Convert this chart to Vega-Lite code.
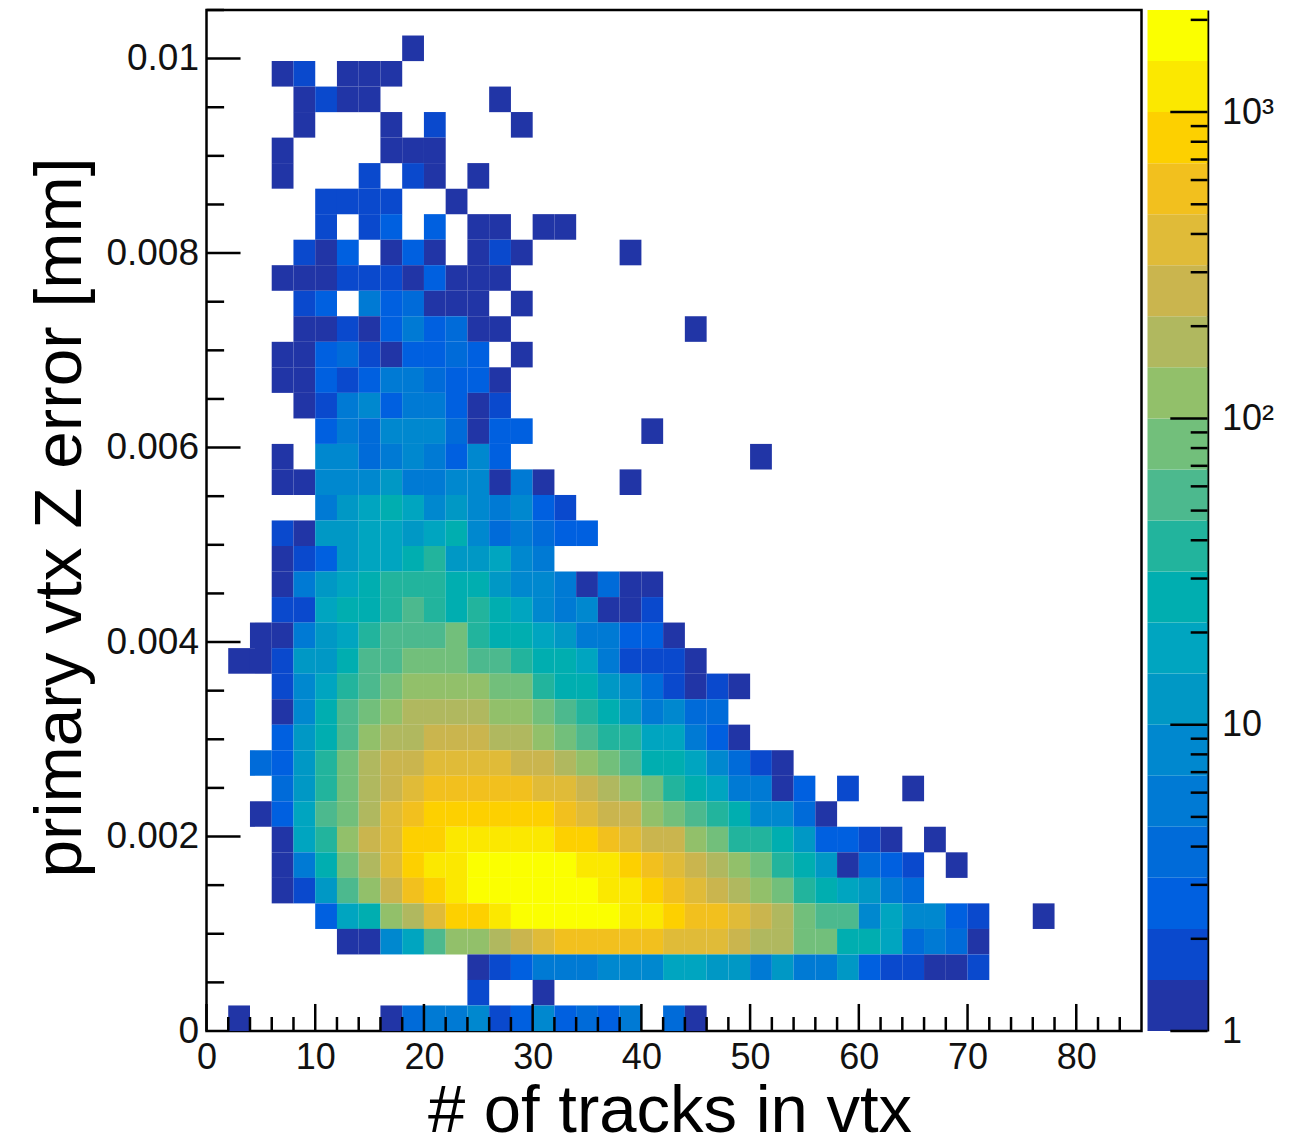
{"$schema":"https://vega.github.io/schema/vega-lite/v6.json","background":"white","padding":{"left":24.5,"top":7,"right":0,"bottom":0},"spacing":4,"config":{"font":"Liberation Sans","view":{"stroke":null}},
"datasets":{"cells":[
{"x":19,"y":0.010106,"v":1},
{"x":7,"y":0.009844,"v":1},{"x":9,"y":0.009844,"v":2},{"x":13,"y":0.009844,"v":1},{"x":15,"y":0.009844,"v":1},{"x":17,"y":0.009844,"v":1},
{"x":9,"y":0.009581,"v":1},{"x":11,"y":0.009581,"v":2},{"x":13,"y":0.009581,"v":1},{"x":15,"y":0.009581,"v":1},{"x":27,"y":0.009581,"v":1},
{"x":9,"y":0.009319,"v":1},{"x":17,"y":0.009319,"v":1},{"x":21,"y":0.009319,"v":2},{"x":29,"y":0.009319,"v":1},
{"x":7,"y":0.009056,"v":1},{"x":17,"y":0.009056,"v":1},{"x":19,"y":0.009056,"v":1},{"x":21,"y":0.009056,"v":1},
{"x":7,"y":0.008794,"v":1},{"x":15,"y":0.008794,"v":2},{"x":19,"y":0.008794,"v":2},{"x":21,"y":0.008794,"v":1},{"x":25,"y":0.008794,"v":1},
{"x":11,"y":0.008531,"v":2},{"x":13,"y":0.008531,"v":2},{"x":15,"y":0.008531,"v":2},{"x":17,"y":0.008531,"v":2},{"x":23,"y":0.008531,"v":1},
{"x":11,"y":0.008269,"v":2},{"x":15,"y":0.008269,"v":2},{"x":17,"y":0.008269,"v":3},{"x":21,"y":0.008269,"v":3},{"x":25,"y":0.008269,"v":1},{"x":27,"y":0.008269,"v":1},{"x":31,"y":0.008269,"v":1},{"x":33,"y":0.008269,"v":1},
{"x":9,"y":0.008006,"v":2},{"x":11,"y":0.008006,"v":1},{"x":13,"y":0.008006,"v":3},{"x":17,"y":0.008006,"v":1},{"x":19,"y":0.008006,"v":3},{"x":21,"y":0.008006,"v":1},{"x":25,"y":0.008006,"v":1},{"x":27,"y":0.008006,"v":2},{"x":29,"y":0.008006,"v":1},{"x":39,"y":0.008006,"v":1},
{"x":7,"y":0.007744,"v":1},{"x":9,"y":0.007744,"v":1},{"x":11,"y":0.007744,"v":1},{"x":13,"y":0.007744,"v":2},{"x":15,"y":0.007744,"v":2},{"x":17,"y":0.007744,"v":2},{"x":19,"y":0.007744,"v":1},{"x":21,"y":0.007744,"v":3},{"x":23,"y":0.007744,"v":1},{"x":25,"y":0.007744,"v":1},{"x":27,"y":0.007744,"v":1},
{"x":9,"y":0.007481,"v":2},{"x":11,"y":0.007481,"v":3},{"x":15,"y":0.007481,"v":5},{"x":17,"y":0.007481,"v":3},{"x":19,"y":0.007481,"v":4},{"x":21,"y":0.007481,"v":1},{"x":23,"y":0.007481,"v":1},{"x":25,"y":0.007481,"v":1},{"x":29,"y":0.007481,"v":1},
{"x":9,"y":0.007219,"v":1},{"x":11,"y":0.007219,"v":1},{"x":13,"y":0.007219,"v":2},{"x":15,"y":0.007219,"v":1},{"x":17,"y":0.007219,"v":3},{"x":19,"y":0.007219,"v":5},{"x":21,"y":0.007219,"v":3},{"x":23,"y":0.007219,"v":4},{"x":25,"y":0.007219,"v":1},{"x":27,"y":0.007219,"v":1},{"x":45,"y":0.007219,"v":1},
{"x":7,"y":0.006956,"v":1},{"x":9,"y":0.006956,"v":1},{"x":11,"y":0.006956,"v":3},{"x":13,"y":0.006956,"v":4},{"x":15,"y":0.006956,"v":2},{"x":17,"y":0.006956,"v":1},{"x":19,"y":0.006956,"v":3},{"x":21,"y":0.006956,"v":3},{"x":23,"y":0.006956,"v":4},{"x":25,"y":0.006956,"v":3},{"x":29,"y":0.006956,"v":1},
{"x":7,"y":0.006694,"v":1},{"x":9,"y":0.006694,"v":1},{"x":11,"y":0.006694,"v":3},{"x":13,"y":0.006694,"v":2},{"x":15,"y":0.006694,"v":3},{"x":17,"y":0.006694,"v":5},{"x":19,"y":0.006694,"v":5},{"x":21,"y":0.006694,"v":4},{"x":23,"y":0.006694,"v":3},{"x":25,"y":0.006694,"v":3},{"x":27,"y":0.006694,"v":1},
{"x":9,"y":0.006431,"v":1},{"x":11,"y":0.006431,"v":2},{"x":13,"y":0.006431,"v":5},{"x":15,"y":0.006431,"v":8},{"x":17,"y":0.006431,"v":3},{"x":19,"y":0.006431,"v":5},{"x":21,"y":0.006431,"v":5},{"x":23,"y":0.006431,"v":3},{"x":25,"y":0.006431,"v":1},{"x":27,"y":0.006431,"v":2},
{"x":11,"y":0.006169,"v":3},{"x":13,"y":0.006169,"v":5},{"x":15,"y":0.006169,"v":4},{"x":17,"y":0.006169,"v":8},{"x":19,"y":0.006169,"v":8},{"x":21,"y":0.006169,"v":8},{"x":23,"y":0.006169,"v":4},{"x":25,"y":0.006169,"v":1},{"x":27,"y":0.006169,"v":3},{"x":29,"y":0.006169,"v":3},{"x":41,"y":0.006169,"v":1},
{"x":7,"y":0.005906,"v":1},{"x":11,"y":0.005906,"v":8},{"x":13,"y":0.005906,"v":8},{"x":15,"y":0.005906,"v":4},{"x":17,"y":0.005906,"v":5},{"x":19,"y":0.005906,"v":8},{"x":21,"y":0.005906,"v":5},{"x":23,"y":0.005906,"v":3},{"x":25,"y":0.005906,"v":8},{"x":27,"y":0.005906,"v":3},{"x":51,"y":0.005906,"v":1},
{"x":7,"y":0.005644,"v":1},{"x":9,"y":0.005644,"v":1},{"x":11,"y":0.005644,"v":8},{"x":13,"y":0.005644,"v":8},{"x":15,"y":0.005644,"v":8},{"x":17,"y":0.005644,"v":12},{"x":19,"y":0.005644,"v":5},{"x":21,"y":0.005644,"v":5},{"x":23,"y":0.005644,"v":8},{"x":25,"y":0.005644,"v":8},{"x":27,"y":0.005644,"v":1},{"x":29,"y":0.005644,"v":5},{"x":31,"y":0.005644,"v":1},{"x":39,"y":0.005644,"v":1},
{"x":11,"y":0.005381,"v":5},{"x":13,"y":0.005381,"v":12},{"x":15,"y":0.005381,"v":18},{"x":17,"y":0.005381,"v":27},{"x":19,"y":0.005381,"v":18},{"x":21,"y":0.005381,"v":8},{"x":23,"y":0.005381,"v":12},{"x":25,"y":0.005381,"v":8},{"x":27,"y":0.005381,"v":5},{"x":29,"y":0.005381,"v":8},{"x":31,"y":0.005381,"v":3},{"x":33,"y":0.005381,"v":2},
{"x":7,"y":0.005119,"v":2},{"x":9,"y":0.005119,"v":1},{"x":11,"y":0.005119,"v":12},{"x":13,"y":0.005119,"v":12},{"x":15,"y":0.005119,"v":18},{"x":17,"y":0.005119,"v":18},{"x":19,"y":0.005119,"v":12},{"x":21,"y":0.005119,"v":18},{"x":23,"y":0.005119,"v":27},{"x":25,"y":0.005119,"v":8},{"x":27,"y":0.005119,"v":4},{"x":29,"y":0.005119,"v":5},{"x":31,"y":0.005119,"v":4},{"x":33,"y":0.005119,"v":3},{"x":35,"y":0.005119,"v":3},
{"x":7,"y":0.004856,"v":1},{"x":9,"y":0.004856,"v":2},{"x":11,"y":0.004856,"v":3},{"x":13,"y":0.004856,"v":12},{"x":15,"y":0.004856,"v":18},{"x":17,"y":0.004856,"v":18},{"x":19,"y":0.004856,"v":27},{"x":21,"y":0.004856,"v":40},{"x":23,"y":0.004856,"v":12},{"x":25,"y":0.004856,"v":12},{"x":27,"y":0.004856,"v":18},{"x":29,"y":0.004856,"v":8},{"x":31,"y":0.004856,"v":5},
{"x":7,"y":0.004594,"v":1},{"x":9,"y":0.004594,"v":5},{"x":11,"y":0.004594,"v":12},{"x":13,"y":0.004594,"v":18},{"x":15,"y":0.004594,"v":27},{"x":17,"y":0.004594,"v":40},{"x":19,"y":0.004594,"v":40},{"x":21,"y":0.004594,"v":40},{"x":23,"y":0.004594,"v":27},{"x":25,"y":0.004594,"v":27},{"x":27,"y":0.004594,"v":12},{"x":29,"y":0.004594,"v":8},{"x":31,"y":0.004594,"v":8},{"x":33,"y":0.004594,"v":5},{"x":35,"y":0.004594,"v":1},{"x":37,"y":0.004594,"v":4},{"x":39,"y":0.004594,"v":1},{"x":41,"y":0.004594,"v":1},
{"x":7,"y":0.004331,"v":2},{"x":9,"y":0.004331,"v":2},{"x":11,"y":0.004331,"v":18},{"x":13,"y":0.004331,"v":27},{"x":15,"y":0.004331,"v":27},{"x":17,"y":0.004331,"v":40},{"x":19,"y":0.004331,"v":58},{"x":21,"y":0.004331,"v":40},{"x":23,"y":0.004331,"v":27},{"x":25,"y":0.004331,"v":40},{"x":27,"y":0.004331,"v":27},{"x":29,"y":0.004331,"v":18},{"x":31,"y":0.004331,"v":8},{"x":33,"y":0.004331,"v":5},{"x":35,"y":0.004331,"v":8},{"x":37,"y":0.004331,"v":1},{"x":39,"y":0.004331,"v":1},{"x":41,"y":0.004331,"v":2},
{"x":5,"y":0.004069,"v":1},{"x":7,"y":0.004069,"v":1},{"x":9,"y":0.004069,"v":5},{"x":11,"y":0.004069,"v":12},{"x":13,"y":0.004069,"v":18},{"x":15,"y":0.004069,"v":40},{"x":17,"y":0.004069,"v":58},{"x":19,"y":0.004069,"v":58},{"x":21,"y":0.004069,"v":58},{"x":23,"y":0.004069,"v":85},{"x":25,"y":0.004069,"v":40},{"x":27,"y":0.004069,"v":27},{"x":29,"y":0.004069,"v":27},{"x":31,"y":0.004069,"v":18},{"x":33,"y":0.004069,"v":12},{"x":35,"y":0.004069,"v":5},{"x":37,"y":0.004069,"v":5},{"x":39,"y":0.004069,"v":3},{"x":41,"y":0.004069,"v":3},{"x":43,"y":0.004069,"v":1},
{"x":3,"y":0.003806,"v":1},{"x":5,"y":0.003806,"v":1},{"x":7,"y":0.003806,"v":2},{"x":9,"y":0.003806,"v":12},{"x":11,"y":0.003806,"v":12},{"x":13,"y":0.003806,"v":27},{"x":15,"y":0.003806,"v":58},{"x":17,"y":0.003806,"v":58},{"x":19,"y":0.003806,"v":85},{"x":21,"y":0.003806,"v":85},{"x":23,"y":0.003806,"v":85},{"x":25,"y":0.003806,"v":58},{"x":27,"y":0.003806,"v":58},{"x":29,"y":0.003806,"v":40},{"x":31,"y":0.003806,"v":27},{"x":33,"y":0.003806,"v":27},{"x":35,"y":0.003806,"v":18},{"x":37,"y":0.003806,"v":5},{"x":39,"y":0.003806,"v":2},{"x":41,"y":0.003806,"v":2},{"x":43,"y":0.003806,"v":2},{"x":45,"y":0.003806,"v":1},
{"x":7,"y":0.003544,"v":2},{"x":9,"y":0.003544,"v":8},{"x":11,"y":0.003544,"v":18},{"x":13,"y":0.003544,"v":40},{"x":15,"y":0.003544,"v":58},{"x":17,"y":0.003544,"v":85},{"x":19,"y":0.003544,"v":125},{"x":21,"y":0.003544,"v":125},{"x":23,"y":0.003544,"v":125},{"x":25,"y":0.003544,"v":125},{"x":27,"y":0.003544,"v":85},{"x":29,"y":0.003544,"v":85},{"x":31,"y":0.003544,"v":40},{"x":33,"y":0.003544,"v":27},{"x":35,"y":0.003544,"v":27},{"x":37,"y":0.003544,"v":12},{"x":39,"y":0.003544,"v":8},{"x":41,"y":0.003544,"v":4},{"x":43,"y":0.003544,"v":2},{"x":45,"y":0.003544,"v":1},{"x":47,"y":0.003544,"v":2},{"x":49,"y":0.003544,"v":1},
{"x":7,"y":0.003281,"v":1},{"x":9,"y":0.003281,"v":8},{"x":11,"y":0.003281,"v":27},{"x":13,"y":0.003281,"v":58},{"x":15,"y":0.003281,"v":85},{"x":17,"y":0.003281,"v":125},{"x":19,"y":0.003281,"v":185},{"x":21,"y":0.003281,"v":185},{"x":23,"y":0.003281,"v":185},{"x":25,"y":0.003281,"v":185},{"x":27,"y":0.003281,"v":125},{"x":29,"y":0.003281,"v":125},{"x":31,"y":0.003281,"v":85},{"x":33,"y":0.003281,"v":58},{"x":35,"y":0.003281,"v":40},{"x":37,"y":0.003281,"v":27},{"x":39,"y":0.003281,"v":12},{"x":41,"y":0.003281,"v":5},{"x":43,"y":0.003281,"v":8},{"x":45,"y":0.003281,"v":4},{"x":47,"y":0.003281,"v":4},
{"x":7,"y":0.003019,"v":3},{"x":9,"y":0.003019,"v":12},{"x":11,"y":0.003019,"v":27},{"x":13,"y":0.003019,"v":58},{"x":15,"y":0.003019,"v":125},{"x":17,"y":0.003019,"v":185},{"x":19,"y":0.003019,"v":185},{"x":21,"y":0.003019,"v":270},{"x":23,"y":0.003019,"v":270},{"x":25,"y":0.003019,"v":270},{"x":27,"y":0.003019,"v":185},{"x":29,"y":0.003019,"v":185},{"x":31,"y":0.003019,"v":125},{"x":33,"y":0.003019,"v":85},{"x":35,"y":0.003019,"v":58},{"x":37,"y":0.003019,"v":40},{"x":39,"y":0.003019,"v":40},{"x":41,"y":0.003019,"v":18},{"x":43,"y":0.003019,"v":18},{"x":45,"y":0.003019,"v":5},{"x":47,"y":0.003019,"v":3},{"x":49,"y":0.003019,"v":1},
{"x":5,"y":0.002756,"v":4},{"x":7,"y":0.002756,"v":3},{"x":9,"y":0.002756,"v":12},{"x":11,"y":0.002756,"v":40},{"x":13,"y":0.002756,"v":85},{"x":15,"y":0.002756,"v":185},{"x":17,"y":0.002756,"v":270},{"x":19,"y":0.002756,"v":270},{"x":21,"y":0.002756,"v":400},{"x":23,"y":0.002756,"v":400},{"x":25,"y":0.002756,"v":400},{"x":27,"y":0.002756,"v":400},{"x":29,"y":0.002756,"v":270},{"x":31,"y":0.002756,"v":270},{"x":33,"y":0.002756,"v":185},{"x":35,"y":0.002756,"v":125},{"x":37,"y":0.002756,"v":85},{"x":39,"y":0.002756,"v":58},{"x":41,"y":0.002756,"v":27},{"x":43,"y":0.002756,"v":27},{"x":45,"y":0.002756,"v":18},{"x":47,"y":0.002756,"v":8},{"x":49,"y":0.002756,"v":4},{"x":51,"y":0.002756,"v":2},{"x":53,"y":0.002756,"v":1},
{"x":7,"y":0.002494,"v":4},{"x":9,"y":0.002494,"v":12},{"x":11,"y":0.002494,"v":40},{"x":13,"y":0.002494,"v":85},{"x":15,"y":0.002494,"v":185},{"x":17,"y":0.002494,"v":270},{"x":19,"y":0.002494,"v":400},{"x":21,"y":0.002494,"v":590},{"x":23,"y":0.002494,"v":590},{"x":25,"y":0.002494,"v":590},{"x":27,"y":0.002494,"v":590},{"x":29,"y":0.002494,"v":590},{"x":31,"y":0.002494,"v":400},{"x":33,"y":0.002494,"v":400},{"x":35,"y":0.002494,"v":270},{"x":37,"y":0.002494,"v":185},{"x":39,"y":0.002494,"v":125},{"x":41,"y":0.002494,"v":85},{"x":43,"y":0.002494,"v":40},{"x":45,"y":0.002494,"v":27},{"x":47,"y":0.002494,"v":18},{"x":49,"y":0.002494,"v":5},{"x":51,"y":0.002494,"v":5},{"x":53,"y":0.002494,"v":1},{"x":55,"y":0.002494,"v":3},{"x":59,"y":0.002494,"v":2},{"x":65,"y":0.002494,"v":1},
{"x":5,"y":0.002231,"v":1},{"x":7,"y":0.002231,"v":3},{"x":9,"y":0.002231,"v":18},{"x":11,"y":0.002231,"v":58},{"x":13,"y":0.002231,"v":85},{"x":15,"y":0.002231,"v":185},{"x":17,"y":0.002231,"v":400},{"x":19,"y":0.002231,"v":590},{"x":21,"y":0.002231,"v":850},{"x":23,"y":0.002231,"v":850},{"x":25,"y":0.002231,"v":850},{"x":27,"y":0.002231,"v":850},{"x":29,"y":0.002231,"v":850},{"x":31,"y":0.002231,"v":850},{"x":33,"y":0.002231,"v":590},{"x":35,"y":0.002231,"v":400},{"x":37,"y":0.002231,"v":270},{"x":39,"y":0.002231,"v":270},{"x":41,"y":0.002231,"v":125},{"x":43,"y":0.002231,"v":85},{"x":45,"y":0.002231,"v":58},{"x":47,"y":0.002231,"v":40},{"x":49,"y":0.002231,"v":27},{"x":51,"y":0.002231,"v":8},{"x":53,"y":0.002231,"v":8},{"x":55,"y":0.002231,"v":4},{"x":57,"y":0.002231,"v":1},
{"x":7,"y":0.001969,"v":1},{"x":9,"y":0.001969,"v":18},{"x":11,"y":0.001969,"v":40},{"x":13,"y":0.001969,"v":125},{"x":15,"y":0.001969,"v":270},{"x":17,"y":0.001969,"v":400},{"x":19,"y":0.001969,"v":850},{"x":21,"y":0.001969,"v":850},{"x":23,"y":0.001969,"v":1250},{"x":25,"y":0.001969,"v":1250},{"x":27,"y":0.001969,"v":1250},{"x":29,"y":0.001969,"v":1250},{"x":31,"y":0.001969,"v":1250},{"x":33,"y":0.001969,"v":850},{"x":35,"y":0.001969,"v":850},{"x":37,"y":0.001969,"v":590},{"x":39,"y":0.001969,"v":400},{"x":41,"y":0.001969,"v":270},{"x":43,"y":0.001969,"v":270},{"x":45,"y":0.001969,"v":125},{"x":47,"y":0.001969,"v":85},{"x":49,"y":0.001969,"v":40},{"x":51,"y":0.001969,"v":40},{"x":53,"y":0.001969,"v":27},{"x":55,"y":0.001969,"v":12},{"x":57,"y":0.001969,"v":3},{"x":59,"y":0.001969,"v":3},{"x":61,"y":0.001969,"v":2},{"x":63,"y":0.001969,"v":1},{"x":67,"y":0.001969,"v":1},
{"x":7,"y":0.001706,"v":1},{"x":9,"y":0.001706,"v":5},{"x":11,"y":0.001706,"v":27},{"x":13,"y":0.001706,"v":85},{"x":15,"y":0.001706,"v":185},{"x":17,"y":0.001706,"v":400},{"x":19,"y":0.001706,"v":850},{"x":21,"y":0.001706,"v":1250},{"x":23,"y":0.001706,"v":1250},{"x":25,"y":0.001706,"v":1800},{"x":27,"y":0.001706,"v":1800},{"x":29,"y":0.001706,"v":1800},{"x":31,"y":0.001706,"v":1800},{"x":33,"y":0.001706,"v":1800},{"x":35,"y":0.001706,"v":1250},{"x":37,"y":0.001706,"v":1250},{"x":39,"y":0.001706,"v":850},{"x":41,"y":0.001706,"v":590},{"x":43,"y":0.001706,"v":400},{"x":45,"y":0.001706,"v":270},{"x":47,"y":0.001706,"v":185},{"x":49,"y":0.001706,"v":125},{"x":51,"y":0.001706,"v":85},{"x":53,"y":0.001706,"v":40},{"x":55,"y":0.001706,"v":27},{"x":57,"y":0.001706,"v":12},{"x":59,"y":0.001706,"v":1},{"x":61,"y":0.001706,"v":4},{"x":63,"y":0.001706,"v":3},{"x":65,"y":0.001706,"v":2},{"x":69,"y":0.001706,"v":1},
{"x":7,"y":0.001444,"v":1},{"x":9,"y":0.001444,"v":2},{"x":11,"y":0.001444,"v":12},{"x":13,"y":0.001444,"v":58},{"x":15,"y":0.001444,"v":125},{"x":17,"y":0.001444,"v":270},{"x":19,"y":0.001444,"v":590},{"x":21,"y":0.001444,"v":850},{"x":23,"y":0.001444,"v":1250},{"x":25,"y":0.001444,"v":1800},{"x":27,"y":0.001444,"v":1800},{"x":29,"y":0.001444,"v":1800},{"x":31,"y":0.001444,"v":1800},{"x":33,"y":0.001444,"v":1800},{"x":35,"y":0.001444,"v":1800},{"x":37,"y":0.001444,"v":1250},{"x":39,"y":0.001444,"v":1250},{"x":41,"y":0.001444,"v":850},{"x":43,"y":0.001444,"v":590},{"x":45,"y":0.001444,"v":400},{"x":47,"y":0.001444,"v":270},{"x":49,"y":0.001444,"v":185},{"x":51,"y":0.001444,"v":125},{"x":53,"y":0.001444,"v":85},{"x":55,"y":0.001444,"v":40},{"x":57,"y":0.001444,"v":27},{"x":59,"y":0.001444,"v":18},{"x":61,"y":0.001444,"v":12},{"x":63,"y":0.001444,"v":5},{"x":65,"y":0.001444,"v":4},
{"x":11,"y":0.001181,"v":3},{"x":13,"y":0.001181,"v":18},{"x":15,"y":0.001181,"v":27},{"x":17,"y":0.001181,"v":125},{"x":19,"y":0.001181,"v":185},{"x":21,"y":0.001181,"v":400},{"x":23,"y":0.001181,"v":850},{"x":25,"y":0.001181,"v":850},{"x":27,"y":0.001181,"v":1250},{"x":29,"y":0.001181,"v":1800},{"x":31,"y":0.001181,"v":1800},{"x":33,"y":0.001181,"v":1800},{"x":35,"y":0.001181,"v":1800},{"x":37,"y":0.001181,"v":1800},{"x":39,"y":0.001181,"v":1250},{"x":41,"y":0.001181,"v":1250},{"x":43,"y":0.001181,"v":850},{"x":45,"y":0.001181,"v":590},{"x":47,"y":0.001181,"v":590},{"x":49,"y":0.001181,"v":400},{"x":51,"y":0.001181,"v":270},{"x":53,"y":0.001181,"v":185},{"x":55,"y":0.001181,"v":85},{"x":57,"y":0.001181,"v":58},{"x":59,"y":0.001181,"v":58},{"x":61,"y":0.001181,"v":8},{"x":63,"y":0.001181,"v":18},{"x":65,"y":0.001181,"v":8},{"x":67,"y":0.001181,"v":8},{"x":69,"y":0.001181,"v":3},{"x":71,"y":0.001181,"v":2},{"x":77,"y":0.001181,"v":1},
{"x":13,"y":0.000919,"v":1},{"x":15,"y":0.000919,"v":1},{"x":17,"y":0.000919,"v":8},{"x":19,"y":0.000919,"v":18},{"x":21,"y":0.000919,"v":58},{"x":23,"y":0.000919,"v":125},{"x":25,"y":0.000919,"v":125},{"x":27,"y":0.000919,"v":185},{"x":29,"y":0.000919,"v":270},{"x":31,"y":0.000919,"v":400},{"x":33,"y":0.000919,"v":590},{"x":35,"y":0.000919,"v":590},{"x":37,"y":0.000919,"v":590},{"x":39,"y":0.000919,"v":590},{"x":41,"y":0.000919,"v":590},{"x":43,"y":0.000919,"v":400},{"x":45,"y":0.000919,"v":400},{"x":47,"y":0.000919,"v":400},{"x":49,"y":0.000919,"v":270},{"x":51,"y":0.000919,"v":185},{"x":53,"y":0.000919,"v":185},{"x":55,"y":0.000919,"v":85},{"x":57,"y":0.000919,"v":85},{"x":59,"y":0.000919,"v":27},{"x":61,"y":0.000919,"v":27},{"x":63,"y":0.000919,"v":18},{"x":65,"y":0.000919,"v":4},{"x":67,"y":0.000919,"v":5},{"x":69,"y":0.000919,"v":4},{"x":71,"y":0.000919,"v":1},
{"x":25,"y":0.000656,"v":1},{"x":27,"y":0.000656,"v":2},{"x":29,"y":0.000656,"v":3},{"x":31,"y":0.000656,"v":5},{"x":33,"y":0.000656,"v":5},{"x":35,"y":0.000656,"v":5},{"x":37,"y":0.000656,"v":8},{"x":39,"y":0.000656,"v":8},{"x":41,"y":0.000656,"v":8},{"x":43,"y":0.000656,"v":18},{"x":45,"y":0.000656,"v":18},{"x":47,"y":0.000656,"v":12},{"x":49,"y":0.000656,"v":12},{"x":51,"y":0.000656,"v":5},{"x":53,"y":0.000656,"v":12},{"x":55,"y":0.000656,"v":5},{"x":57,"y":0.000656,"v":5},{"x":59,"y":0.000656,"v":12},{"x":61,"y":0.000656,"v":3},{"x":63,"y":0.000656,"v":2},{"x":65,"y":0.000656,"v":2},{"x":67,"y":0.000656,"v":1},{"x":69,"y":0.000656,"v":1},{"x":71,"y":0.000656,"v":2},
{"x":25,"y":0.000394,"v":2},{"x":31,"y":0.000394,"v":1},
{"x":3,"y":0.000131,"v":1},{"x":17,"y":0.000131,"v":1},{"x":19,"y":0.000131,"v":4},{"x":21,"y":0.000131,"v":5},{"x":23,"y":0.000131,"v":5},{"x":25,"y":0.000131,"v":8},{"x":27,"y":0.000131,"v":2},{"x":29,"y":0.000131,"v":3},{"x":31,"y":0.000131,"v":8},{"x":33,"y":0.000131,"v":3},{"x":35,"y":0.000131,"v":4},{"x":37,"y":0.000131,"v":3},{"x":39,"y":0.000131,"v":5},{"x":43,"y":0.000131,"v":4},{"x":45,"y":0.000131,"v":1}
],
"bands":[{"lo":1,"hi":1.468,"v":1},{"lo":1.468,"hi":2.154,"v":2},{"lo":2.154,"hi":3.162,"v":3},{"lo":3.162,"hi":4.642,"v":4},{"lo":4.642,"hi":6.813,"v":5},{"lo":6.813,"hi":10,"v":8},{"lo":10,"hi":14.68,"v":12},{"lo":14.68,"hi":21.54,"v":18},{"lo":21.54,"hi":31.62,"v":27},{"lo":31.62,"hi":46.42,"v":40},{"lo":46.42,"hi":68.13,"v":58},{"lo":68.13,"hi":100,"v":85},{"lo":100,"hi":146.8,"v":125},{"lo":146.8,"hi":215.4,"v":185},{"lo":215.4,"hi":316.2,"v":270},{"lo":316.2,"hi":464.2,"v":400},{"lo":464.2,"hi":681.3,"v":590},{"lo":681.3,"hi":1000,"v":850},{"lo":1000,"hi":1468,"v":1250},{"lo":1468,"hi":2154,"v":1800}]},
"hconcat":[
{"width":935,"height":1021,"view":{"stroke":"black","strokeWidth":2.5},
"layer":[
{"data":{"name":"cells"},"mark":{"type":"rect","width":21.8,"height":25.6},
"encoding":{
"x":{"field":"x","type":"quantitative","scale":{"domain":[0,86],"nice":false,"zero":false},"axis":{"values":[0,10,20,30,40,50,60,70,80],"format":"d","ticks":false,"domain":false,"grid":false,"labelFont":"Liberation Sans","labelFontSize":36,"labelColor":"#111","labelPadding":9,"labelDx":-2,"labelOverlap":false,"labelFlush":false,"title":"# of tracks in vtx","titleFont":"Liberation Sans","titleFontSize":67,"titleFontWeight":"normal","titleColor":"black","titlePadding":3,"titleX":463}},
"y":{"field":"y","type":"quantitative","scale":{"domain":[0,0.0105],"nice":false,"zero":false},"axis":{"values":[0,0.002,0.004,0.006,0.008,0.01],"labelExpr":"datum.value==0?'0':format(datum.value,'.3~f')","ticks":false,"domain":false,"grid":false,"labelFont":"Liberation Sans","labelFontSize":37,"labelColor":"#111","labelPadding":8,"labelOverlap":false,"labelFlush":false,"title":"primary vtx Z error [mm]","titleFont":"Liberation Sans","titleFontSize":67.5,"titleFontWeight":"normal","titleColor":"black","titlePadding":11.5,"titleY":507}},
"color":{"field":"v","type":"quantitative","legend":null,"scale":{"type":"threshold","domain":[1.468,2.154,3.162,4.642,6.813,10,14.68,21.54,31.62,46.42,68.13,100,146.8,215.4,316.2,464.2,681.3,1000,1468],"range":["#2135a6","#0a49cd","#0060e0","#006bd9","#007ad4","#0088cf","#0098c5","#00a5c0","#00aeb0","#22b49d","#4cb98e","#72bf7b","#92c06a","#b0b85f","#cab54e","#e0bb38","#f2c01e","#fdd000","#fbe800","#fbff00"]}}}},
{"data":{"values":[{"t":0},{"t":10},{"t":20},{"t":30},{"t":40},{"t":50},{"t":60},{"t":70},{"t":80}]},"mark":{"type":"rule","color":"black","strokeWidth":2.5},
"encoding":{"x":{"field":"t","type":"quantitative"},"y":{"datum":0},"y2":{"datum":0.000278}}},
{"data":{"values":[{"t":2},{"t":4},{"t":6},{"t":8},{"t":12},{"t":14},{"t":16},{"t":18},{"t":22},{"t":24},{"t":26},{"t":28},{"t":32},{"t":34},{"t":36},{"t":38},{"t":42},{"t":44},{"t":46},{"t":48},{"t":52},{"t":54},{"t":56},{"t":58},{"t":62},{"t":64},{"t":66},{"t":68},{"t":72},{"t":74},{"t":76},{"t":78},{"t":82},{"t":84}]},"mark":{"type":"rule","color":"black","strokeWidth":2.5},
"encoding":{"x":{"field":"t","type":"quantitative"},"y":{"datum":0},"y2":{"datum":0.000144}}},
{"data":{"values":[{"t":0.002},{"t":0.004},{"t":0.006},{"t":0.008},{"t":0.01}]},"mark":{"type":"rule","color":"black","strokeWidth":2.5},
"encoding":{"y":{"field":"t","type":"quantitative"},"x":{"datum":0},"x2":{"datum":3.13}}},
{"data":{"values":[{"t":0.0005},{"t":0.001},{"t":0.0015},{"t":0.0025},{"t":0.003},{"t":0.0035},{"t":0.0045},{"t":0.005},{"t":0.0055},{"t":0.0065},{"t":0.007},{"t":0.0075},{"t":0.0085},{"t":0.009},{"t":0.0095},{"t":0.0105}]},"mark":{"type":"rule","color":"black","strokeWidth":2.5},
"encoding":{"y":{"field":"t","type":"quantitative"},"x":{"datum":0},"x2":{"datum":1.62}}}
]},
{"width":60,"height":1021,"view":{"stroke":null},
"layer":[
{"data":{"name":"bands"},"mark":{"type":"rect"},
"encoding":{
"x":{"datum":0,"type":"quantitative","scale":{"domain":[0,1],"nice":false,"zero":false},"axis":null},"x2":{"datum":1},
"y":{"field":"lo","type":"quantitative","scale":{"type":"log","domain":[1,2154],"nice":false},"axis":{"orient":"right","values":[1,10,100,1000],"labelExpr":"datum.value==1?'1':datum.value==10?'10':datum.value==100?'10²':'10³'","ticks":false,"domain":true,"domainColor":"black","domainWidth":2.5,"grid":false,"labelFont":"Liberation Sans","labelFontSize":36,"labelColor":"#111","labelPadding":14,"labelDy":3,"labelOverlap":false,"labelFlush":false,"title":null}},
"y2":{"field":"hi"},
"color":{"field":"v","type":"quantitative","legend":null,"scale":{"type":"threshold","domain":[1.468,2.154,3.162,4.642,6.813,10,14.68,21.54,31.62,46.42,68.13,100,146.8,215.4,316.2,464.2,681.3,1000,1468],"range":["#2135a6","#0a49cd","#0060e0","#006bd9","#007ad4","#0088cf","#0098c5","#00a5c0","#00aeb0","#22b49d","#4cb98e","#72bf7b","#92c06a","#b0b85f","#cab54e","#e0bb38","#f2c01e","#fdd000","#fbe800","#fbff00"]}}}},
{"data":{"values":[{"t":1},{"t":10},{"t":100},{"t":1000}]},"mark":{"type":"rule","color":"black","strokeWidth":2.5},
"encoding":{"y":{"field":"t","type":"quantitative"},"x":{"datum":0.38},"x2":{"datum":1}}},
{"data":{"values":[{"t":2},{"t":3},{"t":4},{"t":5},{"t":6},{"t":7},{"t":8},{"t":9},{"t":20},{"t":30},{"t":40},{"t":50},{"t":60},{"t":70},{"t":80},{"t":90},{"t":200},{"t":300},{"t":400},{"t":500},{"t":600},{"t":700},{"t":800},{"t":900},{"t":2000}]},"mark":{"type":"rule","color":"black","strokeWidth":2.5},
"encoding":{"y":{"field":"t","type":"quantitative"},"x":{"datum":0.72},"x2":{"datum":1}}}
]}
]}
